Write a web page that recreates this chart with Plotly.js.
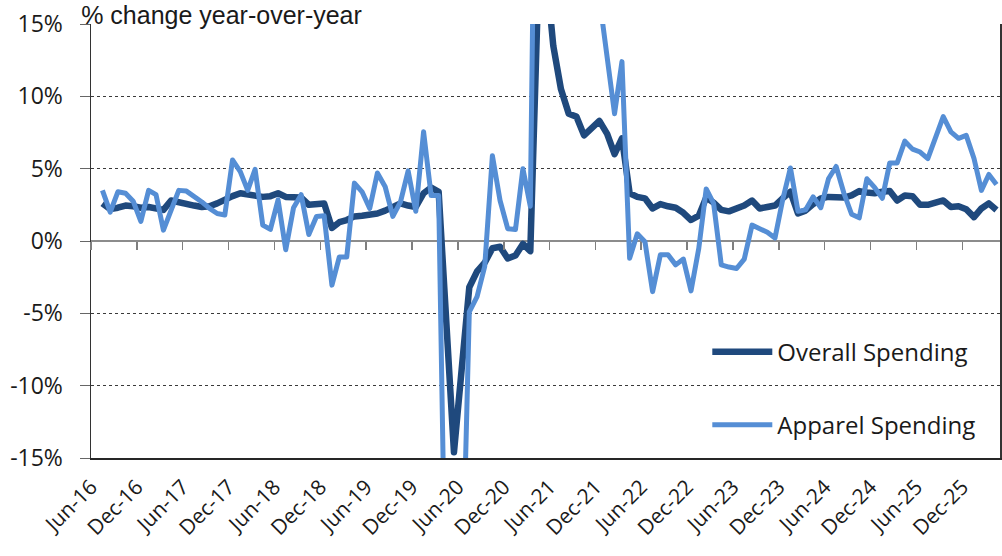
<!DOCTYPE html>
<html>
<head>
<meta charset="utf-8">
<script src="https://cdn.plot.ly/plotly-3.0.1.min.js"></script>
<style>
html,body{margin:0;padding:0;background:#fff;}
.js-line{stroke-linejoin:round;}
</style>
</head>
<body>
<div id="chart" style="width:1002px;height:556px;"></div>
<script>
const months = [
 '2016-07','2016-08','2016-09','2016-10','2016-11','2016-12',
 '2017-01','2017-02','2017-03','2017-04','2017-05','2017-06','2017-07','2017-08','2017-09','2017-10','2017-11','2017-12',
 '2018-01','2018-02','2018-03','2018-04','2018-05','2018-06','2018-07','2018-08','2018-09','2018-10','2018-11','2018-12',
 '2019-01','2019-02','2019-03','2019-04','2019-05','2019-06','2019-07','2019-08','2019-09','2019-10','2019-11','2019-12',
 '2020-01','2020-02','2020-03','2020-04','2020-05','2020-06','2020-07','2020-08','2020-09','2020-10','2020-11','2020-12',
 '2021-01','2021-02','2021-03','2021-04','2021-05','2021-06','2021-07','2021-08','2021-09','2021-10','2021-11','2021-12',
 '2022-01','2022-02','2022-03','2022-04','2022-05','2022-06','2022-07','2022-08','2022-09','2022-10','2022-11','2022-12',
 '2023-01','2023-02','2023-03','2023-04','2023-05','2023-06','2023-07','2023-08','2023-09','2023-10','2023-11','2023-12',
 '2024-01','2024-02','2024-03','2024-04','2024-05','2024-06','2024-07','2024-08','2024-09','2024-10','2024-11','2024-12',
 '2025-01','2025-02','2025-03','2025-04','2025-05','2025-06','2025-07','2025-08','2025-09','2025-10','2025-11','2025-12',
 '2026-01','2026-02','2026-03','2026-04'
];

const overallSpending = [
 2.6, 2.2, 2.3, 2.45, 2.4, 2.3, 2.35, 2.25, 2.15, 2.8,
 2.65, 2.55, 2.45, 2.35, 2.4, 2.6, 2.9, 3.1, 3.3, 3.2,
 3.1, 3.05, 3.1, 3.3, 3.05, 3.0, 3.0, 2.5, 2.6, 2.6,
 0.9, 1.3, 1.45, 1.7, 1.75, 1.8, 1.9, 2.1, 2.35, 2.6,
 2.45, 2.35, 3.3, 3.7, 3.4, -5.5, -14.6, -8.9, -3.2, -2.1,
 -1.5, -0.5, -0.4, -1.2, -1.0, -0.2, -0.7, 17, 19, 13.5,
 10.5, 8.8, 8.6, 7.3, 7.8, 8.3, 7.4, 6.0, 7.1, 3.3,
 3.05, 2.95, 2.25, 2.55, 2.4, 2.3, 1.95, 1.45, 1.75, 3.0,
 2.65, 2.15, 2.05, 2.25, 2.45, 2.8, 2.25, 2.35, 2.45, 2.95,
 3.4, 1.9, 2.1, 2.55, 2.95, 3.05, 3.05, 3.0, 3.15, 3.45,
 3.35, 3.3, 3.4, 3.45, 2.8, 3.15, 3.1, 2.5, 2.5, 2.65,
 2.8, 2.35, 2.4, 2.2, 1.65, 2.25, 2.6, 2.15
];

const apparelSpending = [
 3.5, 2.0, 3.4, 3.3, 2.75, 1.35, 3.5, 3.2, 0.75, 2.2,
 3.5, 3.45, 3.1, 2.7, 2.25, 1.9, 1.8, 5.6, 4.8, 3.5,
 4.95, 1.1, 0.8, 2.85, -0.6, 2.3, 3.2, 0.45, 1.7, 1.75,
 -3.05, -1.1, -1.1, 4.0, 3.4, 2.25, 4.7, 3.75, 1.7, 2.7,
 4.85, 2.05, 7.55, 3.15, 3.15, -30, -60, -26, -4.9, -3.85,
 -1.75, 5.9, 2.8, 0.85, 0.8, 5.0, 2.4, 45, 95, 70,
 50, 35, 28, 25, 22, 16.8, 12.5, 8.8, 12.4, -1.2,
 0.5, -0.05, -3.5, -0.95, -0.95, -1.65, -1.25, -3.45, -0.5, 3.6,
 2.6, -1.65, -1.8, -1.9, -1.25, 1.1, 0.85, 0.6, 0.2, 2.85,
 5.05, 2.05, 2.15, 3.05, 2.3, 4.3, 5.15, 3.3, 1.85, 1.6,
 4.3, 3.7, 2.95, 5.4, 5.4, 6.9, 6.35, 6.15, 5.7, 7.2,
 8.6, 7.55, 7.1, 7.3, 5.7, 3.5, 4.6, 3.9
];

const tickDates = [
 '2016-06-01','2016-12-01','2017-06-01','2017-12-01','2018-06-01','2018-12-01',
 '2019-06-01','2019-12-01','2020-06-01','2020-12-01','2021-06-01','2021-12-01',
 '2022-06-01','2022-12-01','2023-06-01','2023-12-01','2024-06-01','2024-12-01',
 '2025-06-01','2025-12-01'
];
const tickLabels = [
 'Jun-16','Dec-16','Jun-17','Dec-17','Jun-18','Dec-18',
 'Jun-19','Dec-19','Jun-20','Dec-20','Jun-21','Dec-21',
 'Jun-22','Dec-22','Jun-23','Dec-23','Jun-24','Dec-24',
 'Jun-25','Dec-25'
];
const yTickValues = [-15, -10, -5, 0, 5, 10, 15];
const yTickLabels = ['-15%', '-10%', '-5%', '0%', '5%', '10%', '15%'];
const seriesNames = ['Overall Spending', 'Apparel Spending'];
const chartTitle = '% change year-over-year';
const xRange = ['2016-06-01', '2026-04-30'];

const FONT = '"Open Sans", "Liberation Sans", sans-serif';
const TITLE_FONT = '"Liberation Sans", Arial, sans-serif';
const TEXT = '#1a1a1a';

const traces = [
  {
    x: months, y: overallSpending, type: 'scatter', mode: 'lines',
    name: seriesNames[0], legendgroup: 'a',
    xperiod: 'M1', xperiodalignment: 'middle',
    line: {color: '#1F497D', width: 6.5},
    hoverinfo: 'skip'
  },
  {
    x: months, y: apparelSpending, type: 'scatter', mode: 'lines',
    name: seriesNames[1], legendgroup: 'b', xaxis: 'x2',
    xperiod: 'M1', xperiodalignment: 'middle',
    line: {color: '#558ED5', width: 5},
    hoverinfo: 'skip'
  }
];

const layout = {
  width: 1002, height: 556,
  margin: {l: 91, r: 2, t: 24, b: 98},
  paper_bgcolor: '#ffffff', plot_bgcolor: '#ffffff',
  font: {family: FONT, color: TEXT},
  showlegend: true,
  legend: {
    x: 0.678, xanchor: 'left', y: 0.296, yanchor: 'top',
    bgcolor: 'rgba(0,0,0,0)', borderwidth: 0,
    font: {size: 24, color: TEXT, family: FONT},
    tracegroupgap: 39, itemwidth: 60
  },
  title: {
    text: chartTitle,
    font: {size: 25, color: TEXT, family: TITLE_FONT},
    x: 0.081, xanchor: 'left', xref: 'container',
    y: 0.973, yanchor: 'middle', yref: 'container'
  },
  xaxis: {
    type: 'date', range: xRange,
    tickmode: 'array', tickvals: tickDates, ticktext: tickLabels,
    tickangle: -45, ticks: '', showgrid: false, zeroline: false,
    showline: true, linecolor: '#262626', linewidth: 1.5,
    tickfont: {size: 21, color: TEXT, family: FONT},
    ticklabelstandoff: 7
  },
  xaxis2: {
    type: 'date', range: xRange, overlaying: 'x', anchor: 'free', position: 0.5,
    tickmode: 'array', tickvals: tickDates,
    ticks: 'outside', ticklen: 8, tickwidth: 1.5, tickcolor: '#7f7f7f',
    showticklabels: false, showgrid: false, showline: false, zeroline: false
  },
  yaxis: {
    range: [-15, 15],
    tickmode: 'array', tickvals: yTickValues, ticktext: yTickLabels,
    showgrid: true, gridcolor: '#3a3a3a', griddash: 'dot', gridwidth: 1,
    zeroline: true, zerolinecolor: '#8c8c8c', zerolinewidth: 1.5,
    showline: true, mirror: true, linecolor: '#333333', linewidth: 1.5,
    ticks: 'outside', ticklen: 10, tickwidth: 1, tickcolor: '#666666',
    tickfont: {size: 23, color: TEXT, family: FONT},
    ticklabelstandoff: 12
  }
};

Plotly.newPlot('chart', traces, layout, {staticPlot: true, displayModeBar: false});
</script>
</body>
</html>
